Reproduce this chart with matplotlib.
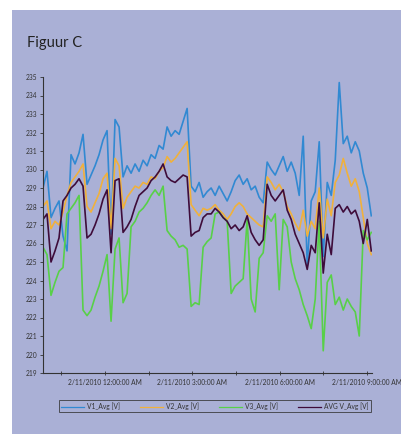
#!/usr/bin/env python3

import matplotlib
matplotlib.use('Agg')  # no display

import numpy as np
import matplotlib.pyplot as plt
from matplotlib import ticker
from matplotlib.patches import Rectangle

params = {
    "font.family": ["Lato", "DejaVu Sans"],
    "xtick.labelsize": 4.8,
    "ytick.labelsize": 4.8,
}
plt.rcParams.update(params)

# sampling grid: hours after 2/11/2010 12:00 AM (about 8 minutes apart)
hours = np.linspace(-2.13, 9.145, 83)

v1_avg = [229.0, 229.9, 227.4, 227.9, 228.3, 226.4, 225.6, 230.8, 230.3, 230.9,
          231.9, 229.2, 229.7, 230.2, 230.8, 231.6, 232.1, 226.5, 232.7, 232.3,
          229.6, 230.2, 229.8, 230.3, 229.9, 230.5, 230.2, 230.8, 230.6, 231.3,
          231.1, 232.3, 231.8, 232.1, 231.9, 232.6, 233.3, 229.1, 228.8, 229.3,
          228.5, 228.8,
          229.0, 228.6, 229.1, 228.7, 228.3, 228.8, 229.4, 229.7, 229.2, 229.5,
          228.9, 229.1, 228.5, 228.2, 230.4, 230.0, 229.7, 230.2, 230.7, 229.9,
          230.4, 229.8, 228.6, 231.8, 224.8, 228.3, 228.8, 231.5, 225.3, 229.3,
          228.6, 230.5, 234.7, 231.4, 231.8, 230.9, 231.5, 231.0, 229.8, 229.0,
          227.5]

v2_avg = [228.0, 228.3, 226.8, 227.2, 227.0, 227.7, 228.6, 229.3, 229.6, 229.9,
          230.3, 228.0, 227.7, 228.2, 228.7, 229.5, 229.8, 226.8, 230.6, 230.2,
          227.9, 228.5, 228.8, 229.1, 229.0, 229.3, 229.2, 229.6, 229.5, 229.9,
          230.1, 230.7, 230.4, 230.6, 230.9, 231.2, 231.5, 228.1, 227.8, 227.5,
          227.9, 227.8,
          227.9, 228.1, 227.8, 227.6, 227.3, 227.6, 228.0, 228.2, 228.0, 227.6,
          227.4, 227.2, 227.0, 226.9, 229.6, 229.3, 228.9, 229.2, 228.8, 228.0,
          227.6, 227.1, 226.7, 227.8, 226.4, 227.2, 226.8, 229.0, 226.3, 228.4,
          227.5, 229.3, 229.7, 230.6, 229.8, 229.1, 229.5, 228.8, 227.4, 226.0,
          225.4]

v3_avg = [225.8, 225.4, 223.2, 223.9, 224.5, 224.7, 227.6, 227.9, 228.2, 228.6,
          222.4, 222.1, 222.4, 223.1, 223.7, 224.5, 225.4, 221.8, 225.7, 226.3,
          222.8, 223.3, 226.9, 227.2, 227.7, 227.9, 228.2, 228.6, 228.9, 228.6,
          229.1, 226.7, 226.4, 226.2, 225.8, 225.9, 225.7, 222.6, 222.8, 222.7,
          225.8, 226.1,
          226.3, 227.6, 227.7, 227.4, 227.2, 223.3, 223.7, 223.9, 224.1, 227.3,
          223.0, 222.3, 225.2, 225.5, 227.5, 227.2, 227.6, 223.5, 227.3, 226.9,
          225.0, 224.1, 223.5, 222.7, 222.1, 221.4, 223.0, 227.2, 220.2, 223.9,
          224.3, 222.7, 223.1, 222.4, 223.0, 222.6, 222.3, 221.0, 226.7, 226.2,
          226.6]

avg_v_avg = [227.3, 227.6, 225.0, 225.6, 226.3, 228.3, 228.6, 229.0, 229.2, 229.5,
             229.1, 226.3, 226.5, 227.0, 227.6, 228.4, 228.9, 225.5, 229.4, 229.5,
             226.6, 226.9, 227.3, 228.0, 228.6, 228.8, 229.0, 229.4, 229.6, 229.9,
             230.3, 229.6, 229.4, 229.3, 229.5, 229.7, 229.6, 226.4, 226.6, 226.7,
             227.4, 227.6,
             227.6, 227.9, 227.7, 227.4, 227.2, 226.8, 227.0, 226.7, 226.9, 227.5,
             226.6, 226.2, 225.9, 226.2, 229.2, 228.6, 228.3, 228.6, 228.9, 227.8,
             227.3, 226.5, 226.0, 225.5, 224.6, 225.9, 225.5, 228.2, 224.4, 226.5,
             225.4, 227.9, 228.1, 227.7, 228.0, 227.6, 227.8, 227.2, 226.0, 227.3,
             225.6]

series_names = ['V1_Avg [V]', 'V2_Avg [V]', 'V3_Avg [V]', 'AVG V_Avg [V]']
series_colors = ['#3189d2', '#f0b13c', '#58d048', '#3e0c3a']

major_hours = [0, 3, 6, 9]
minor_hours = [-1.5, 1.5, 4.5, 7.5]
major_labels = ['2/11/2010 12:00:00 AM', '2/11/2010 3:00:00 AM',
                '2/11/2010 6:00:00 AM', '2/11/2010 9:00:00 AM']

bg = '#aab0d6'
ink = '#333333'

fig = plt.figure(figsize=(4.02, 4.34), dpi=100)
fig.patch.set_facecolor('white')
# lavender panel (white margin top and left)
fig.add_artist(Rectangle((12/402, 0), 1 - 12/402, (434 - 10)/434,
                         transform=fig.transFigure, facecolor=bg,
                         edgecolor='none', zorder=0))

fig.text(27/402, 1 - 43/434, 'Figuur C', fontsize=10.5, color='#222222',
         va='center', ha='left')

ax = fig.add_axes([43/402, 61/434, (372 - 43)/402, (373 - 77)/434])
ax.set_facecolor('none')

for vals, name, col in zip([v1_avg, v2_avg, v3_avg, avg_v_avg],
                           series_names, series_colors):
    ax.plot(hours, vals, color=col, lw=1.2, label=name)

ax.set_ylim(219, 235)
ax.set_xlim(-2.13, 9.17)
ax.yaxis.set_major_locator(ticker.MultipleLocator(1))
ax.xaxis.set_major_locator(ticker.FixedLocator(major_hours))
ax.xaxis.set_major_formatter(ticker.FixedFormatter(major_labels))
ax.xaxis.set_minor_locator(ticker.FixedLocator(minor_hours))

for side in ['top', 'right']:
    ax.spines[side].set_visible(False)
for side in ['left', 'bottom']:
    ax.spines[side].set_color(ink)
    ax.spines[side].set_linewidth(0.8)

ax.tick_params(axis='y', colors=ink, length=2.5, width=0.6, pad=1.5)
ax.tick_params(axis='x', which='both', colors=ink, direction='inout',
               length=3, width=0.6, pad=3)

leg = fig.legend(loc='center', bbox_to_anchor=(215/402, 1 - 406/434), ncol=4,
                 fontsize=4.8, frameon=True, fancybox=False, handlelength=3.4,
                 handletextpad=0.5, columnspacing=3.0, borderpad=0.3)
leg.get_frame().set_facecolor('none')
leg.get_frame().set_edgecolor(ink)
leg.get_frame().set_linewidth(0.7)
for line in leg.get_lines():
    line.set_linewidth(0.9)
for txt in leg.get_texts():
    txt.set_color(ink)

plt.savefig('out.png', dpi=100)
